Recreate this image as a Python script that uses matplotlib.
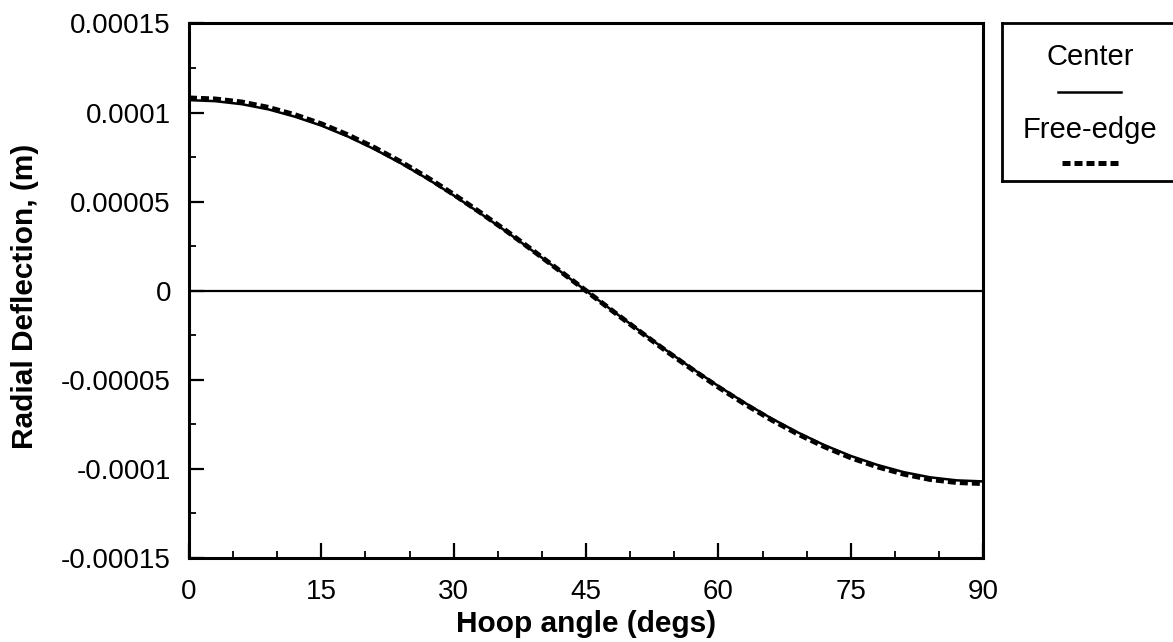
import matplotlib
matplotlib.use("Agg")
import matplotlib.pyplot as plt
from matplotlib.ticker import MultipleLocator, FixedLocator, FixedFormatter
import numpy as np

# hoop angle (degs) and radial deflection (1e-5 m)
angle = [0, 3, 6, 9, 12, 15, 18, 21, 24, 27, 30, 33, 36, 39, 42, 45,
         48, 51, 54, 57, 60, 63, 66, 69, 72, 75, 78, 81, 84, 87, 90]
center = [10.70, 10.64, 10.47, 10.18, 9.77, 9.27, 8.66, 7.95, 7.16, 6.29,
          5.35, 4.35, 3.31, 2.22, 1.12, 0.0, -1.12, -2.22, -3.31, -4.35,
          -5.35, -6.29, -7.16, -7.95, -8.66, -9.27, -9.77, -10.18, -10.47,
          -10.64, -10.70]
free_edge = [10.82, 10.76, 10.59, 10.29, 9.88, 9.37, 8.75, 8.04, 7.24, 6.36,
             5.41, 4.40, 3.35, 2.25, 1.13, 0.0, -1.13, -2.25, -3.35, -4.40,
             -5.41, -6.36, -7.24, -8.04, -8.75, -9.37, -9.88, -10.29, -10.59,
             -10.76, -10.82]

ytick_vals = [0.00015, 0.0001, 0.00005, 0, -0.00005, -0.0001, -0.00015]
ytick_labels = ['0.00015', '0.0001', '0.00005', '0', '-0.00005', '-0.0001',
                '-0.00015']
xtick_vals = [0, 15, 30, 45, 60, 75, 90]

plt.rcParams['font.family'] = ['Liberation Sans', 'DejaVu Sans']

x = np.array(angle)
yc = np.array(center) * 1e-5
yf = np.array(free_edge) * 1e-5

fig = plt.figure(figsize=(11.73, 6.42), dpi=100)
ax = fig.add_axes([0.1611, 0.1308, 0.677, 0.8326])

dots = (0, (1.6, 0.8))
ax.axhline(0, color='black', lw=1.6, zorder=1)
ax.plot(x, yf, color='black', lw=3.6, linestyle=dots, zorder=2)
ax.plot(x, yc, color='black', lw=1.8, zorder=3)

ax.set_xlim(0, 90)
ax.set_ylim(-0.00015, 0.00015)
ax.xaxis.set_major_locator(FixedLocator(xtick_vals))
ax.xaxis.set_minor_locator(MultipleLocator(5))
ax.yaxis.set_major_locator(FixedLocator(ytick_vals))
ax.yaxis.set_major_formatter(FixedFormatter(ytick_labels))
ax.yaxis.set_minor_locator(MultipleLocator(0.000025))

ax.tick_params(which='major', direction='in', length=11, width=1.6,
               labelsize=20)
ax.tick_params(axis='x', which='major', pad=15)
ax.tick_params(axis='y', which='major', pad=13)
ax.tick_params(which='minor', direction='in', length=5, width=1.3)
for s in ax.spines.values():
    s.set_linewidth(2.2)

ax.set_xlabel('Hoop angle (degs)', fontsize=21.5, fontweight='bold')
ax.set_ylabel('Radial Deflection, (m)', fontsize=21.5, fontweight='bold')
ax.xaxis.set_label_coords(0.5, -0.097)
ax.yaxis.set_label_coords(-0.189, 0.49)

# legend box, drawn by hand: label above its line sample
lax = fig.add_axes([1002 / 1173, 1 - 181 / 642, 0.16, 158 / 642])
lax.set_xlim(0, 1)
lax.set_ylim(0, 1)
lax.set_xticks([])
lax.set_yticks([])
for s in lax.spines.values():
    s.set_linewidth(2.0)
lax.text(0.468, 0.734, 'Center', ha='center', va='baseline', fontsize=21)
lax.plot([0.298, 0.633], [0.563, 0.563], color='black', lw=1.8)
lax.text(0.468, 0.272, 'Free-edge', ha='center', va='baseline', fontsize=21)
lax.plot([0.32, 0.63], [0.114, 0.114], color='black', lw=3.6, linestyle=dots)

fig.savefig('out.png', dpi=100)
